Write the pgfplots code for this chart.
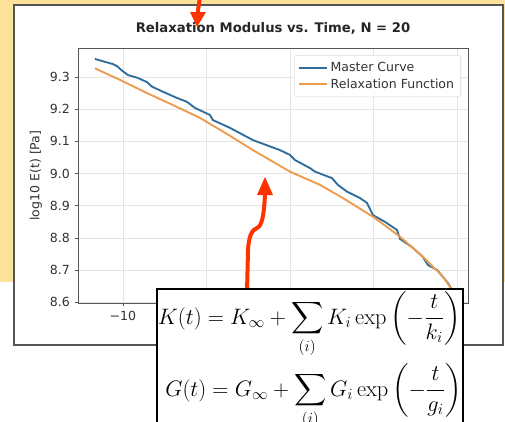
\documentclass[border=0pt]{standalone}
\usepackage[no-math]{fontspec}
\usepackage{amsmath}
\usepackage{pgfplots}
\pgfplotsset{compat=1.18}
\newfontfamily\djv{DejaVu Sans}
\definecolor{slide}{HTML}{FDE39A}
\definecolor{mcblue}{HTML}{2F6E9C}
\definecolor{rforange}{HTML}{EE9B4E}
\definecolor{arrowred}{HTML}{FF3300}
\definecolor{framegray}{HTML}{555555}
\definecolor{ticktext}{HTML}{333333}
\newcommand{\tickfont}{\djv\fontsize{9.4}{11}\selectfont}

\begin{document}
\begin{tikzpicture}[x=0.75pt,y=-0.75pt]
\useasboundingbox (0,0) rectangle (505,421);
\clip (0,0) rectangle (505,421);
% slide background and the screenshot frame
\fill[white] (0,0) rectangle (505,421);
\fill[slide] (0,0) rectangle (505,282);
\draw[framegray, line width=1.5pt, fill=white] (14,5) rectangle (503,345);

\begin{axis}[
  at={(58.5pt,-227.25pt)}, anchor=south west,
  scale only axis, width=292.5pt, height=191.25pt,
  xmin=-12.69, xmax=10.66, ymin=8.598, ymax=9.390,
  xtick={-10,-5,0,5,10},
  xticklabels={−10,−5,0,5,10},
  ytick={8.6,8.7,8.8,8.9,9.0,9.1,9.2,9.3},
  yticklabels={8.6,8.7,8.8,8.9,9.0,9.1,9.2,9.3},
  tick label style={font=\tickfont, text=ticktext},
  grid=major, grid style={color=black!10, line width=0.5pt},
  axis line style={framegray, line width=0.6pt},
  tick style={framegray, line width=0.6pt},
  tick pos=left, tick align=outside, major tick length=2.6pt,
  title={Relaxation Modulus vs. Time, N = 20},
  title style={font=\djv\bfseries\fontsize{9.9}{12}\selectfont, text=black!85,
    at={(axis description cs:0.5,1)}, anchor=base, yshift=5.5pt},
  ylabel={log10 E(t) [Pa]},
  every axis y label/.style={at={(axis description cs:-0.108,0.5)}, rotate=90,
    anchor=center, font=\tickfont, text=ticktext},
  legend style={at={(axis description cs:1,1)}, xshift=-5.25pt, yshift=-5.25pt,
    anchor=north east, draw=black!15, rounded corners=2pt, fill=white,
    font=\tickfont, text=ticktext, row sep=0pt, inner sep=3pt},
  legend cell align=left,
  legend image code/.code={\draw[#1] (0pt,0pt) -- (21pt,0pt);},
]
\addplot[mcblue, line width=1.4pt] coordinates {
  (-11.68,9.356) (-10.60,9.340) (-10.36,9.334) (-10.06,9.320) (-9.70,9.306)
  (-9.10,9.297) (-8.56,9.284) (-8.26,9.270) (-7.60,9.254) (-6.77,9.235)
  (-6.17,9.223) (-5.69,9.204) (-4.79,9.182) (-4.61,9.166) (-3.59,9.142)
  (-2.22,9.104) (-0.60,9.073) (0.00,9.058) (0.30,9.042) (1.20,9.017)
  (1.50,9.006) (2.51,8.986) (2.87,8.965) (3.41,8.944) (4.19,8.924)
  (4.61,8.909) (4.97,8.871) (5.69,8.850) (6.41,8.825) (6.59,8.797)
  (7.30,8.772) (7.96,8.741) (8.26,8.716) (8.80,8.701) (9.16,8.679)
  (9.46,8.660) (9.70,8.639)
};
\addlegendentry{Master Curve}
\addplot[rforange, line width=1.4pt] coordinates {
  (-11.68,9.327) (-10.18,9.291) (-8.56,9.250) (-7.01,9.213) (-5.39,9.173)
  (-3.77,9.123) (-2.22,9.073) (0.00,9.006) (1.80,8.965) (3.17,8.924)
  (4.97,8.866) (6.59,8.804) (7.96,8.742) (9.16,8.680) (9.70,8.639)
};
\addlegendentry{Relaxation Function}
\end{axis}

% annotation arrows
\draw[arrowred, line width=3pt] (199.5,0) -- (197.5,14);
\fill[arrowred] (190,12) -- (206,12) -- (197,27) -- cycle;
\draw[arrowred, line width=3pt] (247,292) -- (248,250)
  .. controls (249,235) and (252,230) .. (257,228)
  .. controls (262,226) and (264,215) .. (265,194);
\fill[arrowred] (257,195) -- (273,195) -- (265,177) -- cycle;

% equation panel
\draw[black, line width=0.8pt, fill=white] (157,289) rectangle (463,445);
\node[anchor=base west, inner sep=0pt, scale=0.97, transform shape] at (157.5,324)
  {\fontsize{17}{20}\selectfont $\displaystyle K(t) = K_\infty + \sum_{(i)} K_i \exp\left(-\frac{t}{k_i}\right)$};
\node[anchor=base west, inner sep=0pt, scale=0.97, transform shape] at (165,396)
  {\fontsize{17}{20}\selectfont $\displaystyle G(t) = G_\infty + \sum_{(i)} G_i \exp\left(-\frac{t}{g_i}\right)$};
\end{tikzpicture}
\end{document}
